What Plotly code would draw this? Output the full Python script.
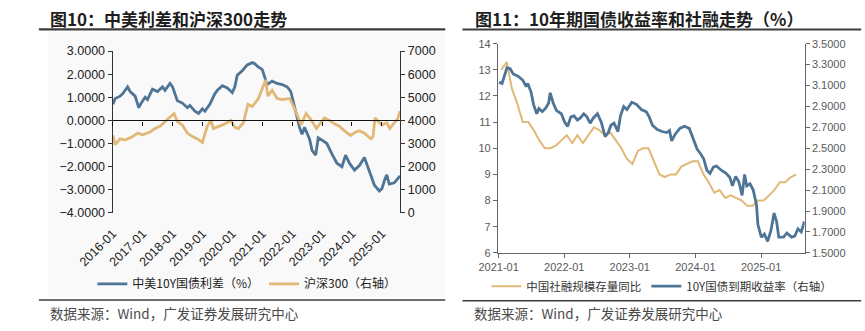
import plotly.graph_objects as go

# ---------------- Left chart data ----------------
spread_dates = ["2016-01-04","2016-02-01","2016-04-01","2016-05-01","2016-07-01","2016-08-01","2016-10-01","2016-11-15",
"2016-12-15","2017-02-01","2017-03-01","2017-05-01","2017-07-01","2017-09-01","2017-10-01","2017-12-01","2018-01-01",
"2018-03-01","2018-05-01","2018-07-01","2018-08-01","2018-10-01","2018-11-15","2019-01-01","2019-02-01","2019-04-01",
"2019-06-01","2019-07-01","2019-09-01","2019-11-01","2020-01-01","2020-02-01","2020-03-01","2020-05-01","2020-07-01",
"2020-09-01","2020-10-01","2020-11-01","2021-01-01","2021-02-01","2021-03-01","2021-05-01","2021-07-01","2021-09-01",
"2021-11-01","2021-12-15","2022-02-01","2022-03-01","2022-04-01","2022-05-01","2022-06-01","2022-08-01","2022-09-01",
"2022-10-15","2022-11-15","2023-01-01","2023-03-01","2023-05-01","2023-07-01","2023-09-01","2023-10-15","2023-12-01",
"2024-02-01","2024-04-01","2024-06-01","2024-08-01","2024-10-01","2024-12-01","2025-01-01","2025-02-01","2025-03-01",
"2025-04-01","2025-06-01","2025-08-10"]
spread_vals = [0.70,0.95,1.05,1.15,1.45,1.25,1.05,0.55,0.75,1.00,0.90,1.35,1.25,1.45,1.30,1.60,1.45,0.85,0.75,0.55,0.65,
0.40,0.30,0.50,0.40,0.70,1.15,1.30,1.50,1.40,1.20,1.45,1.95,2.15,2.40,2.50,2.45,2.35,2.20,1.90,1.55,1.70,1.60,1.55,1.45,
1.25,0.55,0.05,-0.30,-0.60,-0.30,-0.80,-1.30,-1.50,-0.75,-0.85,-1.00,-1.45,-1.85,-2.00,-1.50,-1.85,-2.15,-1.95,-1.60,
-2.20,-2.80,-3.05,-2.95,-2.60,-2.35,-2.75,-2.70,-2.40]

hs300_dates = ["2016-01-04","2016-02-01","2016-04-01","2016-06-01","2016-09-01","2016-11-01","2017-01-01","2017-04-01",
"2017-06-01","2017-08-01","2017-11-01","2018-01-20","2018-03-01","2018-05-01","2018-07-01","2018-09-01","2018-11-01",
"2019-01-01","2019-03-01","2019-04-15","2019-05-15","2019-08-01","2019-10-01","2019-12-15","2020-02-01","2020-03-15",
"2020-05-15","2020-07-10","2020-09-01","2020-11-15","2021-01-01","2021-02-10","2021-03-10","2021-05-01","2021-07-01",
"2021-09-01","2021-12-01","2022-02-01","2022-04-20","2022-06-20","2022-08-15","2022-10-25","2022-12-15","2023-02-01",
"2023-04-01","2023-06-01","2023-08-01","2023-10-01","2023-12-15","2024-02-15","2024-04-01","2024-06-01","2024-08-20",
"2024-09-15","2024-10-08","2024-11-15","2025-01-01","2025-03-01","2025-04-08","2025-06-01","2025-07-10","2025-08-10"]
hs300_vals = [3350,2950,3200,3150,3300,3450,3380,3500,3650,3750,4050,4300,3950,3800,3450,3300,3200,3050,3750,4000,3650,
3750,3850,4000,3700,3650,3900,4700,4600,4950,5400,5750,5050,5300,4950,4900,4950,4500,3800,4300,4050,3650,3900,4100,
4000,3850,3750,3550,3350,3500,3550,3450,3200,3300,4100,3950,3800,3900,3650,3900,4050,4400]

# ---------------- Right chart data ----------------
tsf_dates = ["2021-01-15","2021-02-15","2021-03-15","2021-04-15","2021-05-15","2021-06-15","2021-07-15","2021-08-15",
"2021-09-15","2021-10-15","2021-11-15","2021-12-15","2022-01-15","2022-02-15","2022-03-15","2022-04-15","2022-05-15",
"2022-06-15","2022-07-15","2022-08-15","2022-09-15","2022-10-15","2022-11-15","2022-12-15","2023-01-15","2023-02-15",
"2023-03-15","2023-04-15","2023-05-15","2023-06-15","2023-07-15","2023-08-15","2023-09-15","2023-10-15","2023-11-15",
"2023-12-15","2024-01-15","2024-02-15","2024-03-15","2024-04-15","2024-05-15","2024-06-15","2024-07-15","2024-08-15",
"2024-09-15","2024-10-15","2024-11-15","2024-12-15","2025-01-15","2025-02-15","2025-03-15","2025-04-15","2025-05-15",
"2025-06-15","2025-07-15"]
tsf_vals = [13.0,13.3,12.3,11.7,11.0,11.0,10.7,10.3,10.0,10.0,10.1,10.3,10.5,10.2,10.5,10.2,10.5,10.8,10.7,10.5,10.6,
10.3,10.0,9.6,9.4,9.9,10.0,10.0,9.5,9.0,8.9,9.0,9.0,9.3,9.4,9.5,9.5,9.0,8.7,8.3,8.4,8.1,8.2,8.1,8.0,7.8,7.8,8.0,8.0,
8.2,8.4,8.7,8.7,8.9,9.0]

cgb_dates = ["2021-01-03","2021-01-20","2021-02-16","2021-03-06","2021-03-23","2021-04-19","2021-05-16","2021-06-03",
"2021-06-12","2021-06-30","2021-07-14","2021-08-01","2021-08-13","2021-08-31","2021-09-18","2021-10-06","2021-10-15",
"2021-11-01","2021-11-19","2021-12-16","2022-01-03","2022-01-20","2022-02-07","2022-02-25","2022-03-15","2022-04-01",
"2022-04-20","2022-05-07","2022-05-25","2022-06-12","2022-07-05","2022-07-26","2022-08-17","2022-09-03","2022-09-18",
"2022-10-05","2022-10-27","2022-11-10","2022-11-28","2022-12-16","2023-01-12","2023-02-07","2023-03-06","2023-04-02",
"2023-04-19","2023-05-07","2023-06-03","2023-06-29","2023-07-26","2023-08-10","2023-08-22","2023-09-09","2023-10-06",
"2023-11-01","2023-11-28","2023-12-16","2024-01-11","2024-01-29","2024-02-16","2024-03-05","2024-03-22","2024-04-10",
"2024-04-27","2024-05-24","2024-06-20","2024-07-11","2024-07-25","2024-08-12","2024-08-30","2024-09-17","2024-10-01",
"2024-10-13","2024-10-31","2024-11-18","2024-12-06","2024-12-14","2025-01-02","2025-01-19","2025-02-06","2025-02-24",
"2025-03-14","2025-03-28","2025-04-09","2025-05-06","2025-05-24","2025-06-19","2025-07-07","2025-07-25","2025-08-12",
"2025-08-30"]
cgb_vals = [3.13,3.12,3.27,3.26,3.21,3.19,3.15,3.09,3.12,3.04,2.92,2.83,2.88,2.85,2.88,2.93,3.03,2.93,2.86,2.83,2.75,
2.71,2.80,2.81,2.77,2.79,2.83,2.80,2.74,2.79,2.83,2.75,2.61,2.65,2.72,2.74,2.66,2.81,2.90,2.87,2.94,2.92,2.87,2.85,
2.80,2.72,2.68,2.66,2.65,2.67,2.57,2.63,2.69,2.71,2.69,2.60,2.49,2.45,2.40,2.29,2.26,2.32,2.33,2.29,2.26,2.22,2.14,
2.23,2.18,2.05,2.25,2.14,2.16,2.10,1.96,1.77,1.65,1.68,1.61,1.71,1.88,1.80,1.65,1.65,1.69,1.65,1.66,1.73,1.70,1.80]

BLUE = "#4e7496"
GOLD = "#e1b878"
FONT = "Arial, Liberation Sans, Noto Sans CJK SC, sans-serif"
CJK = "Noto Sans CJK SC, sans-serif"

W, H = 865, 331
def px(x): return x / W
def py(y): return 1 - y / H

fig = go.Figure()
fig.add_trace(go.Scatter(x=spread_dates, y=spread_vals, name="中美10Y国债利差（%）", mode="lines",
                         line=dict(color=BLUE, width=2.8), xaxis="x", yaxis="y", legend="legend"))
fig.add_trace(go.Scatter(x=hs300_dates, y=hs300_vals, name="沪深300（右轴）", mode="lines",
                         line=dict(color=GOLD, width=2.8), xaxis="x3", yaxis="y2", legend="legend"))
fig.add_trace(go.Scatter(x=tsf_dates, y=tsf_vals, name="中国社融规模存量同比", mode="lines",
                         line=dict(color=GOLD, width=2), xaxis="x2", yaxis="y3", legend="legend2"))
fig.add_trace(go.Scatter(x=cgb_dates, y=cgb_vals, name="10Y国债到期收益率（右轴）", mode="lines",
                         line=dict(color=BLUE, width=2.8), xaxis="x2", yaxis="y4", legend="legend2"))

L_dom_x = [px(80), px(380)]
L_dom_y = [py(215), py(46)]
R_dom_x = [px(482), px(802)]
R_dom_y = [py(256.7), py(38.3)]
L_range = ["2016-01-01", "2025-08-12"]
R_range = ["2020-12-28", "2025-08-31"]
zero_pos = L_dom_y[0] + (L_dom_y[1] - L_dom_y[0]) * 4 / 7

tickfont_L = dict(family=FONT, size=12.5, color="#222")
tickfont_R = dict(family=FONT, size=11, color="#595959")

fig.update_layout(
    width=W, height=H, margin=dict(l=0, r=0, t=0, b=0),
    paper_bgcolor="white", plot_bgcolor="rgba(0,0,0,0)",
    xaxis=dict(domain=L_dom_x, anchor="y", range=L_range, type="date", tick0="2016-01-01", dtick="M12",
               tickformat="%Y-%m", tickangle=-45, showline=False, ticks="", showgrid=False, zeroline=False,
               tickfont=tickfont_L, ticklabelstandoff=10),
    xaxis3=dict(overlaying="x", anchor="free", position=zero_pos, range=L_range, type="date",
                tick0="2016-01-01", dtick="M12", showticklabels=False, showline=True, linecolor="#111",
                linewidth=1.2, ticks="outside", ticklen=4, tickcolor="#111", showgrid=False, zeroline=False),
    yaxis=dict(domain=L_dom_y, anchor="x", range=[-4, 3], dtick=1, tickformat=".4f", showline=True,
               linecolor="#333", linewidth=1.2, ticks="outside", ticklen=4, tickcolor="#333", showgrid=False,
               zeroline=False, tickfont=tickfont_L),
    yaxis2=dict(overlaying="y", side="right", anchor="x", range=[0, 7000], dtick=1000, showline=True,
                linecolor="#333", linewidth=1.2, ticks="outside", ticklen=4, tickcolor="#333", showgrid=False,
                zeroline=False, tickfont=tickfont_L),
    xaxis2=dict(domain=R_dom_x, anchor="y3", range=R_range, type="date", tick0="2021-01-01", dtick="M12",
                tickformat="%Y-%m", showline=True, linecolor="#666", linewidth=1.2, ticks="outside", ticklen=4,
                tickcolor="#666", showgrid=False, zeroline=False, tickfont=tickfont_R),
    yaxis3=dict(domain=R_dom_y, anchor="x2", range=[6, 14], dtick=1, showline=True, linecolor="#666",
                linewidth=1.2, ticks="outside", ticklen=4, tickcolor="#666", showgrid=False, zeroline=False,
                tickfont=tickfont_R),
    yaxis4=dict(overlaying="y3", side="right", anchor="x2", range=[1.5, 3.5], tick0=1.5, dtick=0.2,
                tickformat=".4f", showline=True, linecolor="#666", linewidth=1.2, ticks="outside", ticklen=4,
                tickcolor="#666", showgrid=False, zeroline=False, tickfont=tickfont_R),
    legend=dict(orientation="h", x=px(220), y=py(289), xanchor="center", yanchor="middle",
                font=dict(family=CJK, size=12, color="#222"), bgcolor="rgba(0,0,0,0)"),
    legend2=dict(orientation="h", x=px(653), y=py(291.5), xanchor="center", yanchor="middle",
                 font=dict(family=CJK, size=11.5, color="#333"), bgcolor="rgba(0,0,0,0)"),
    showlegend=True,
)

# faint background panel of the left figure
fig.add_shape(type="rect", xref="paper", yref="paper", x0=px(12), x1=px(427), y0=py(303), y1=py(26),
              fillcolor="#f9f9f9", line=dict(width=0), layer="below")

# rules
for x0, x1, y, w in [(3, 427, 23.3, 2.2), (445, 861, 23.5, 2.2), (3, 427, 306, 1.5), (445, 861, 306.7, 1.5)]:
    fig.add_shape(type="line", xref="paper", yref="paper", x0=px(x0), x1=px(x1), y0=py(y), y1=py(y),
                  line=dict(color="#3c3c3c", width=w))

# titles
fig.add_annotation(text="<b>图10：中美利差和沪深300走势</b>", xref="paper", yref="paper", x=px(12), y=py(12),
                   xanchor="left", yanchor="middle", showarrow=False, font=dict(family=CJK, size=17, color="#1e1e1e"))
fig.add_annotation(text="<b>图11：10年期国债收益率和社融走势（%）</b>", xref="paper", yref="paper", x=px(456),
                   y=py(12), xanchor="left", yanchor="middle", showarrow=False,
                   font=dict(family=CJK, size=17, color="#1e1e1e"))
# sources
for x in [13, 455]:
    fig.add_annotation(text="数据来源：Wind，广发证券发展研究中心", xref="paper", yref="paper", x=px(x), y=py(320),
                       xanchor="left", yanchor="middle", showarrow=False,
                       font=dict(family=CJK, size=13.5, color="#4a4a4a"))

fig.write_html("out.html")
